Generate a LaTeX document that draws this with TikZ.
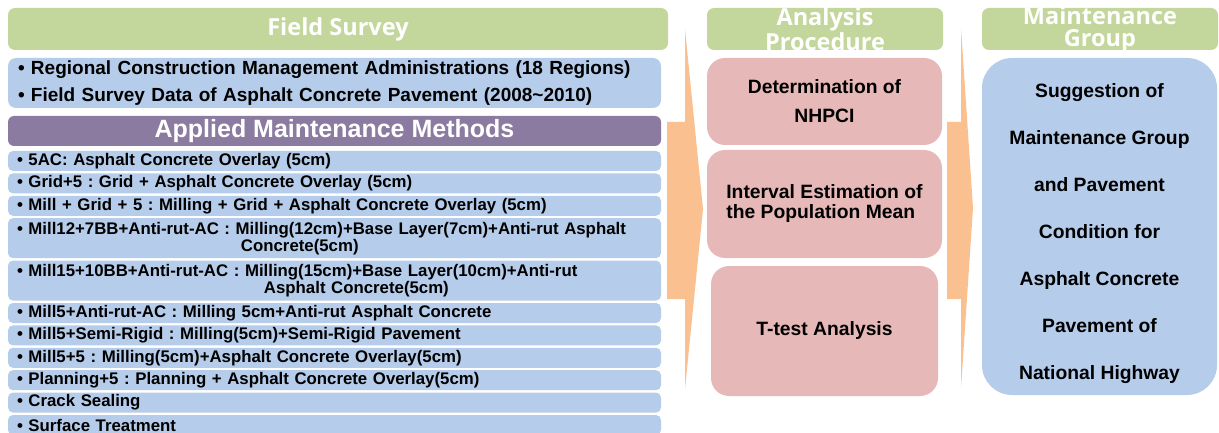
\documentclass[tikz,border=0pt]{standalone}
\usepackage{fontspec}
\setmainfont{Liberation Sans}
\newfontfamily\headfont{Open Sans}
\usetikzlibrary{positioning}
\definecolor{hdgreen}{HTML}{C3D69B}
\definecolor{rowblue}{HTML}{B5CCEA}
\definecolor{methpurple}{HTML}{8B7BA0}
\definecolor{pinkbox}{HTML}{E6B8B7}
\definecolor{flowor}{HTML}{FAC090}
\frenchspacing

\begin{document}
\begin{tikzpicture}[x=1pt,y=-1pt,
  font=\bfseries,
  hd/.style={fill=hdgreen,rounded corners=7pt,anchor=north west,minimum height=42pt,inner sep=0pt,outer sep=0pt},
  htxt/.style={text=white,align=center,font=\headfont\bfseries\fontsize{23.5}{22}\selectfont},
  info/.style={fill=rowblue,rounded corners=8pt,anchor=north west,minimum width=653pt,minimum height=50pt,inner xsep=10pt,inner ysep=0pt,outer sep=0pt,text width=633pt,align=left,font=\bfseries\fontsize{19}{27}\selectfont},
  meth/.style={fill=methpurple,rounded corners=6pt,minimum width=653pt,minimum height=30pt,inner sep=0pt,outer sep=0pt,text=white,font=\bfseries\fontsize{25}{26}\selectfont},
  mrow/.style={fill=rowblue,rounded corners=5pt,minimum width=653pt,minimum height=20pt,inner xsep=9pt,inner ysep=0pt,outer sep=0pt,text width=635pt,align=left,font=\bfseries\fontsize{16.8}{17}\selectfont},
  dbl/.style={mrow,minimum height=40pt},
  pk/.style={fill=pinkbox,rounded corners=18pt,inner sep=0pt,outer sep=0pt,font=\bfseries\fontsize{19.3}{29}\selectfont},
  res/.style={fill=rowblue,rounded corners=30pt,anchor=north west,minimum width=235pt,minimum height=337pt,inner sep=0pt,outer sep=0pt},
  restxt/.style={align=center,yshift=-7pt,font=\bfseries\fontsize{19.3}{47}\selectfont},
  flow/.style={fill=flowor}]

  \clip (0,0) rectangle (1219,433);

  % survey column
  \node[hd,minimum width=660pt,label={[htxt]center:Field Survey}] (fs) at (8,8) {};
  \node[info] (reg) at (8,58) {• Regional Construction Management Administrations (18 Regions)\\
    • Field Survey Data of Asphalt Concrete Pavement (2008\textasciitilde2010)};
  \node[meth,below=8pt of reg] (amm) {Applied Maintenance Methods};
  \node[mrow,below=5pt of amm] (m1) {• 5AC: Asphalt Concrete Overlay (5cm)};
  \node[mrow,below=2.4pt of m1] (m2) {• Grid+5 : Grid + Asphalt Concrete Overlay (5cm)};
  \node[mrow,below=2.4pt of m2] (m3) {• Mill + Grid + 5 : Milling + Grid + Asphalt Concrete Overlay (5cm)};
  \node[dbl,below=2.4pt of m3] (m4) {• Mill12+7BB+Anti-rut-AC : Milling(12cm)+Base Layer(7cm)+Anti-rut Asphalt\\
    \hspace*{224pt}Concrete(5cm)};
  \node[dbl,below=2.4pt of m4] (m5) {• Mill15+10BB+Anti-rut-AC : Milling(15cm)+Base Layer(10cm)+Anti-rut\\
    \hspace*{247pt}Asphalt Concrete(5cm)};
  \node[mrow,below=2.4pt of m5] (m6) {• Mill5+Anti-rut-AC : Milling 5cm+Anti-rut Asphalt Concrete};
  \node[mrow,below=2.4pt of m6] (m7) {• Mill5+Semi-Rigid : Milling(5cm)+Semi-Rigid Pavement};
  \node[mrow,below=2.4pt of m7] (m8) {• Mill5+5 : Milling(5cm)+Asphalt Concrete Overlay(5cm)};
  \node[mrow,below=2.4pt of m8] (m9) {• Planning+5 : Planning + Asphalt Concrete Overlay(5cm)};
  \node[mrow,below=2.4pt of m9] (m10) {• Crack Sealing};
  \node[mrow,below=2.4pt of m10] (m11) {• Surface Treatment};

  % analysis column
  \node[hd,minimum width=236pt,label={[htxt]center:Analysis\\Procedure}] (ap) at (707,8) {};
  \node[pk,anchor=north west,minimum width=235pt,minimum height=87pt,align=center] (nh) at (707,58) {Determination of\\NHPCI};
  \node[pk,below=5pt of nh,minimum width=235pt,minimum height=108pt,align=left,font=\bfseries\fontsize{19.3}{20}\selectfont] (ie) {Interval Estimation of\\the Population Mean};
  \node[pk,below=8pt of ie,minimum width=227pt,minimum height=130pt] (tt) {T-test Analysis};

  % result column
  \node[hd,minimum width=236pt,label={[htxt]center:Maintenance\\Group}] (mg) at (982,8) {};
  \node[res,label={[restxt]center:Suggestion of\\Maintenance Group\\and Pavement\\Condition for\\Asphalt Concrete\\Pavement of\\National Highway}] (sg) at (982,58) {};

  % block arrows between the columns
  \fill[flow] (667,122) -- (685,122) -- (685,29) -- (703,209) -- (685,389) -- (685,299) -- (667,299) -- cycle;
  \fill[flow] (947,122) -- (961,122) -- (961,28) -- (973,208) -- (961,388) -- (961,299) -- (947,299) -- cycle;
\end{tikzpicture}
\end{document}
